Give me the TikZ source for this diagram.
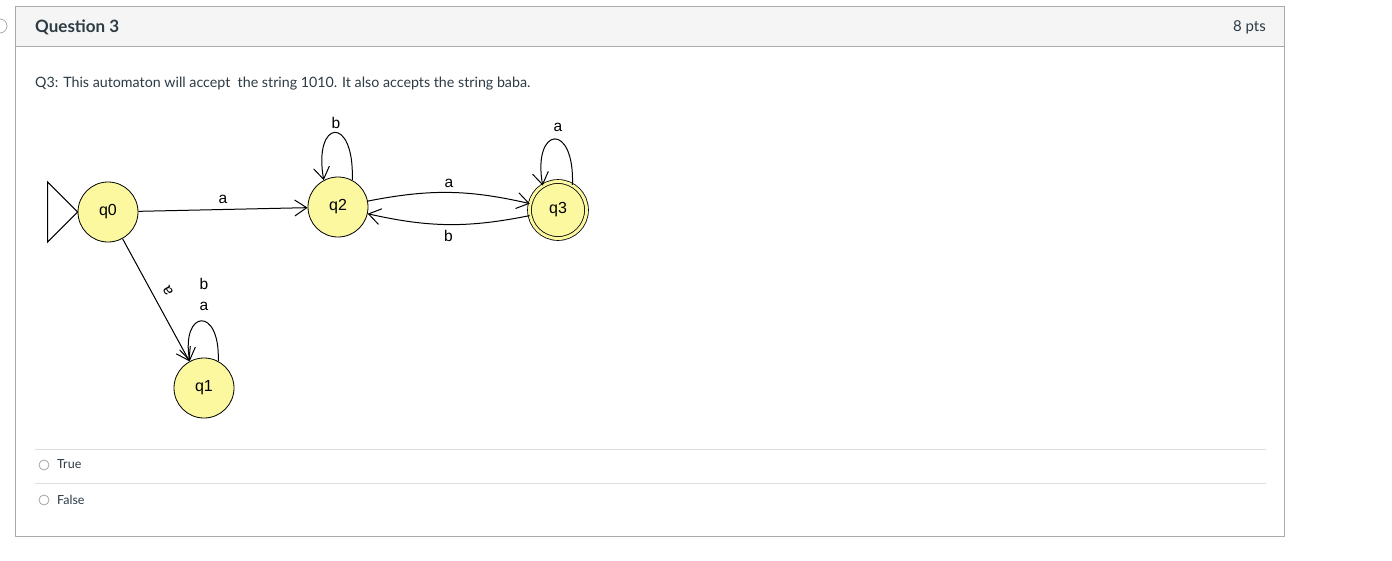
\documentclass[tikz,border=0pt]{standalone}
\usepackage{fontspec}
\setmainfont{Lato}
\newfontfamily\diagfont{Liberation Sans}
\usetikzlibrary{arrows.meta}
\usetikzlibrary{positioning}
\definecolor{stateyellow}{RGB}{252,248,160}
\definecolor{headgray}{RGB}{245,245,245}
\definecolor{framegray}{RGB}{170,170,170}
\definecolor{rulegray}{RGB}{222,222,222}
\definecolor{textgray}{RGB}{45,59,69}
\tikzset{
	>={Straight Barb[length=12pt,width=16pt]},
	state/.style={
		circle,
		fill=stateyellow,
		draw=black, thick,
		minimum size=60pt,
		inner sep=0pt,
		font=\diagfont\fontsize{16}{16}\selectfont},
	accepting/.style={double=stateyellow, double distance=3pt, minimum size=57pt},
	trans/.style={draw, line width=1pt, ->},
	lbl/.style={font=\diagfont\fontsize{15.5}{16}\selectfont, inner sep=1pt},
	radio/.style={draw=gray!70, line width=0.8pt},
	answer/.style={anchor=west, font=\fontsize{12.5}{13}\selectfont, text=textgray, inner sep=0pt},
}
\begin{document}
\begin{tikzpicture}[x=1pt,y=-1pt]
		\useasboundingbox (0,0) rectangle (1392,560);
		% question frame
		\draw[framegray, fill=white] (15,6) rectangle (1284,536);
		\draw[framegray, fill=headgray] (15,6) rectangle (1284,46);
		\draw[framegray, thick] (0,26) circle (7pt);
		\node[anchor=west, inner sep=0pt, text=textgray, font=\bfseries\fontsize{17}{18}\selectfont] (titel) at (35,27.5) {Question 3};
		\node[anchor=east, inner sep=0pt, text=textgray, font=\fontsize{15}{16}\selectfont] (punkte) at (1266,27.5) {8 pts};
		\node[anchor=west, inner sep=0pt, text=textgray, font=\fontsize{14.25}{15}\selectfont] (frage) at (35,84) {Q3: This automaton will accept\ \ the string 1010. It also accepts the string baba.};
		
		% automaton
		\node[state] (q0) at (108,212) {q0};
		\node[state] (q2) at (338,207) {q2};
		\node[state, accepting] (q3) at (558,210) {q3};
		\node[state] (q1) at (204,388) {q1};
		\draw[line width=1pt] (q0.west) -- ++(-30pt,30pt) -- ++(0,-60pt) -- cycle;
		
		\path[trans] (q0) -- node[lbl, above=4pt] {a} (q2);
		\path[trans] (q2) to[bend left=12] node[lbl, above=3pt] {a} (q3);
		\path[trans] (q3) to[bend left=12] node[lbl, below=4pt] {b} (q2);
		\path[trans] (q0) -- (q1);
		\node[lbl, rotate=120] (q0q1) at (168,291) {a};
		\path[trans] (q2.62) .. controls +(88:66pt) and +(100:62pt) .. (q2.118);
		\path[trans] (q3.60) .. controls +(88:64pt) and +(100:60pt) .. (q3.122);
		\path[trans] (q1.62) .. controls +(88:56pt) and +(100:52pt) .. (q1.118);
		\node[lbl] (q2loop) at (336,123) {b};
		\node[lbl] (q3loop) at (558,127) {a};
		\node[lbl] (q1loopa) at (204,306) {a};
		\node[lbl] (q1loopb) at (204,284) {b};
		
		% answers
		\draw[rulegray] (35,449) -- (1266,449);
		\draw[rulegray] (35,483) -- (1266,483);
		\draw[radio] (44,465) circle (5pt);
		\draw[radio] (44,500) circle (5pt);
		\node[answer] (wahr) at (57,464.5) {True};
		\node[answer] (falsch) at (57,499.5) {False};
\end{tikzpicture}
\end{document}
